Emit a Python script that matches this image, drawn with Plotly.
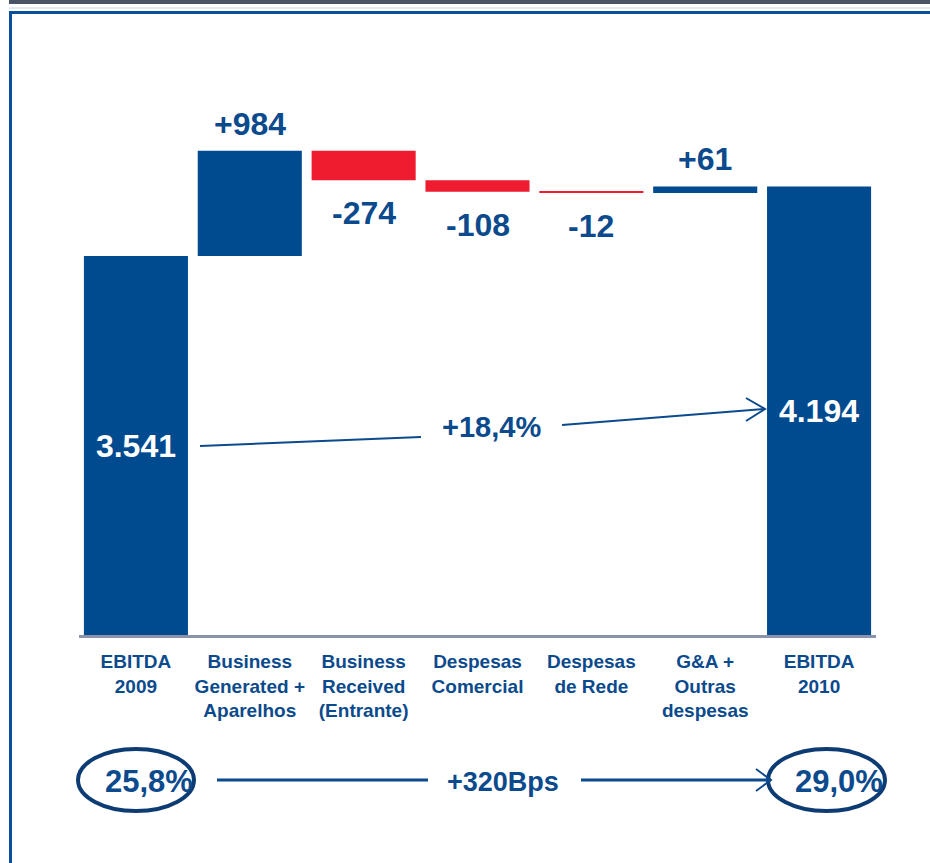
"""EBITDA bridge 2009 -> 2010 as a Plotly waterfall."""

import plotly.graph_objects as go

# ---- data ----
categories = [
    'EBITDA<br>2009',
    'Business<br>Generated +<br>Aparelhos',
    'Business<br>Received<br>(Entrante)',
    'Despesas<br>Comercial',
    'Despesas<br>de Rede',
    'G&A +<br>Outras<br>despesas',
    'EBITDA<br>2010',
]
values = [3541, 984, -274, -108, -12, 61, 4194]
measures = ['absolute', 'relative', 'relative', 'relative', 'relative', 'relative', 'total']
value_labels = ['3.541', '+984', '-274', '-108', '-12', '+61', '4.194']
growth_label = '+18,4%'
margin_start = '25,8%'
margin_end = '29,0%'
margin_delta = '+320Bps'

BLUE = '#004a8f'
RED = '#ee1c2e'
TEXT = '#0b4a8c'
NAVY = '#0d3b73'
FONT = 'Liberation Sans, Arial, sans-serif'

W, H = 930, 863


def px(x):
    return x / W


def py(y):
    return 1 - y / H


def label_font(size, color=TEXT):
    return dict(family=FONT, size=size, color=color, weight='bold')


fig = go.Figure(go.Waterfall(
    x=categories,
    y=values,
    measure=measures,
    text=[value_labels[0]] + [''] * 5 + [value_labels[-1]],
    textposition=['inside'] + ['none'] * 5 + ['inside'],
    insidetextanchor='middle',
    textfont=label_font(32, 'white'),
    increasing=dict(marker=dict(color=BLUE)),
    decreasing=dict(marker=dict(color=RED)),
    totals=dict(marker=dict(color=BLUE)),
    connector=dict(visible=False),
    hoverinfo='skip',
))

# delta labels above / below the floating bars
running = values[0]
for cat, v, lab in zip(categories[1:-1], values[1:-1], value_labels[1:-1]):
    running += v
    fig.add_annotation(x=cat, y=running, xref='x', yref='y', text=lab,
                       showarrow=False, xanchor='center', yanchor='middle',
                       yshift=27 if v > 0 else -33,
                       font=label_font(32))

shapes = []
# frame
shapes.append(dict(type='rect', xref='paper', yref='paper', x0=px(9), x1=1, y0=py(0), y1=py(4),
                   fillcolor='#4a5366', line=dict(width=0)))
shapes.append(dict(type='line', xref='paper', yref='paper', x0=px(9), x1=1, y0=py(8), y1=py(8),
                   line=dict(color='#c9d2de', width=1)))
shapes.append(dict(type='line', xref='paper', yref='paper', x0=px(9), x1=1, y0=py(12.5), y1=py(12.5),
                   line=dict(color='#0a4f9e', width=3)))
shapes.append(dict(type='line', xref='paper', yref='paper', x0=px(10.5), x1=px(10.5), y0=py(11), y1=0,
                   line=dict(color='#0a4f9e', width=3)))

# growth arrow between the two EBITDA bars
line_style = dict(color=TEXT, width=2)
shapes.append(dict(type='line', xref='paper', yref='paper', x0=px(200), y0=py(446), x1=px(421), y1=py(437),
                   line=line_style))
shapes.append(dict(type='line', xref='paper', yref='paper', x0=px(562), y0=py(425), x1=px(765), y1=py(409),
                   line=line_style))
shapes.append(dict(type='path', xref='paper', yref='paper',
                   path=f'M {px(746)},{py(398)} L {px(765)},{py(409)} L {px(746)},{py(421)}',
                   line=line_style))

# margin row
shapes.append(dict(type='circle', xref='paper', yref='paper', x0=px(78), x1=px(194), y0=py(749), y1=py(811),
                   line=dict(color=NAVY, width=4)))
shapes.append(dict(type='circle', xref='paper', yref='paper', x0=px(768), x1=px(885), y0=py(749), y1=py(811),
                   line=dict(color=NAVY, width=4)))
shapes.append(dict(type='line', xref='paper', yref='paper', x0=px(217), x1=px(428), y0=py(780), y1=py(780),
                   line=dict(color=TEXT, width=3)))
shapes.append(dict(type='line', xref='paper', yref='paper', x0=px(581), x1=px(771), y0=py(780), y1=py(780),
                   line=dict(color=TEXT, width=3)))
shapes.append(dict(type='path', xref='paper', yref='paper',
                   path=f'M {px(756)},{py(769)} L {px(771)},{py(780)} L {px(756)},{py(791)}',
                   line=dict(color=TEXT, width=2)))

free_text = [
    (growth_label, 491, 427, 29),
    (margin_start, 149, 781, 31),
    (margin_end, 839, 781, 31),
    (margin_delta, 503, 782, 27),
]
for txt, x, y, size in free_text:
    fig.add_annotation(x=px(x), y=py(y), xref='paper', yref='paper', text=txt,
                       showarrow=False, xanchor='center', yanchor='middle',
                       font=label_font(size))

fig.update_layout(
    width=W,
    height=H,
    margin=dict(l=0, r=0, t=0, b=0),
    autosize=False,
    paper_bgcolor='white',
    plot_bgcolor='white',
    showlegend=False,
    waterfallgap=0.086,
    shapes=shapes,
    xaxis=dict(
        domain=[px(79), px(876)],
        range=[-0.5, 6.5],
        showline=True,
        linecolor='#8a93a8',
        linewidth=3,
        showgrid=False,
        ticks='',
        ticklabelstandoff=7,
        tickfont=label_font(19),
        fixedrange=True,
    ),
    yaxis=dict(
        domain=[py(635), py(100)],
        range=[0, 5000],
        visible=False,
        showgrid=False,
        zeroline=False,
        fixedrange=True,
    ),
)

fig.write_html(
    "out.html",
    config={'displayModeBar': False},
    post_script="document.body.style.margin='0';document.body.style.overflow='hidden';",
)
